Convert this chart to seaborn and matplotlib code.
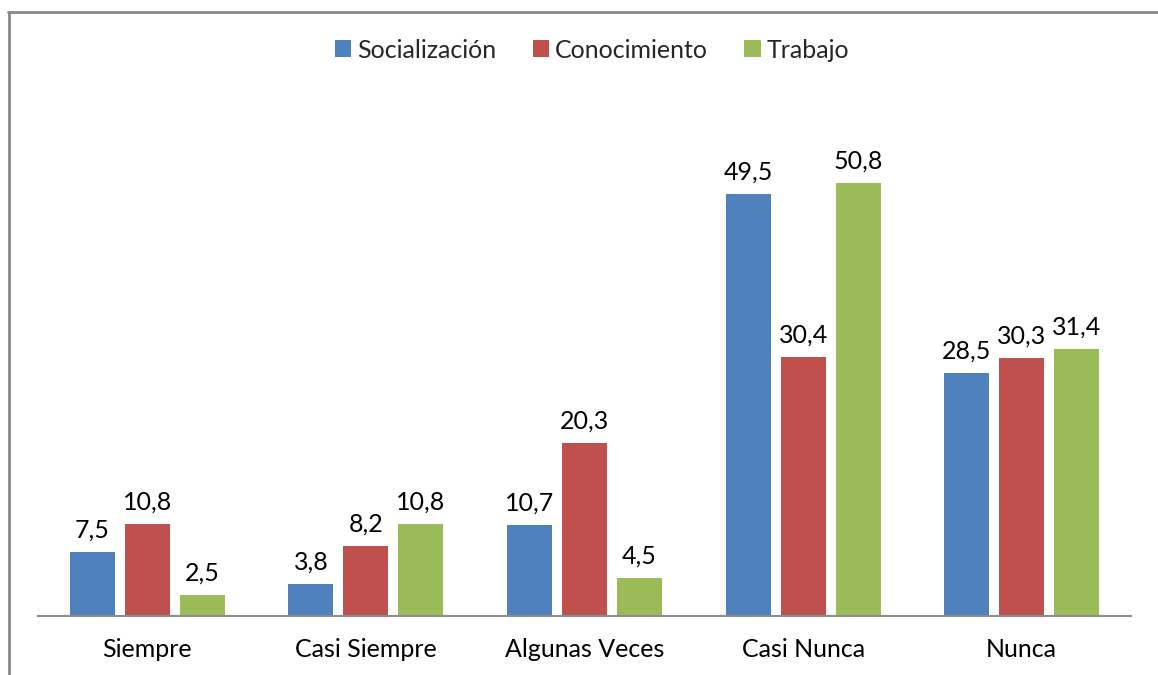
import matplotlib
matplotlib.use("Agg")
import matplotlib.pyplot as plt
from matplotlib.lines import Line2D
import seaborn as sns
import pandas as pd

categories = ["Siempre", "Casi Siempre", "Algunas Veces", "Casi Nunca", "Nunca"]
series = ["Socialización", "Conocimiento", "Trabajo"]
socializacion = [7.5, 3.8, 10.7, 49.5, 28.5]
conocimiento = [10.8, 8.2, 20.3, 30.4, 30.3]
trabajo = [2.5, 10.8, 4.5, 50.8, 31.4]
colors = ["#4F81BD", "#C0504D", "#9BBB59"]

rows = []
for name, vals in zip(series, [socializacion, conocimiento, trabajo]):
    for c, v in zip(categories, vals):
        rows.append({"cat": c, "serie": name, "valor": v})
df = pd.DataFrame(rows)

sns.set_theme(style="white")
plt.rcParams["font.family"] = ["Lato", "DejaVu Sans"]

fig = plt.figure(figsize=(11.58, 6.75), dpi=100)
ax = fig.add_axes([38/1158, 59/675, (1131-38)/1158, (570-59)/675])

sns.barplot(data=df, x="cat", y="valor", hue="serie", order=categories,
            hue_order=series, palette=colors, width=0.755, gap=0.18,
            saturation=1, ax=ax, errorbar=None, edgecolor="none")

for cont in ax.containers:
    labels = [f"{v:.1f}".replace(".", ",") for v in cont.datavalues]
    ax.bar_label(cont, labels=labels, padding=7.5, fontsize=18, color="#000000")

ax.set_ylim(0, 60)
ax.set_xlim(-0.5, 4.5)
ax.set_xlabel("")
ax.set_ylabel("")
ax.set_yticks([])
ax.tick_params(axis="x", length=0, pad=16, labelsize=18, colors="#000000")
for s in ["top", "right", "left"]:
    ax.spines[s].set_visible(False)
ax.spines["bottom"].set_color("#8C8C8C")
ax.spines["bottom"].set_linewidth(1.5)

leg = ax.legend(loc="center", bbox_to_anchor=(592/1158, 1 - 50/675),
                bbox_transform=fig.transFigure, ncol=3, frameon=False,
                fontsize=18, handlelength=0.65, handleheight=0.65,
                handletextpad=0.25, columnspacing=1.45)

fig.add_artist(Line2D([8.5/1158, 8.5/1158], [0, 1 - 12/675], transform=fig.transFigure,
                      color="#888888", linewidth=2))
fig.add_artist(Line2D([8/1158, 1], [1 - 12/675, 1 - 12/675], transform=fig.transFigure,
                      color="#888888", linewidth=2))

fig.savefig("out.png", dpi=100)
